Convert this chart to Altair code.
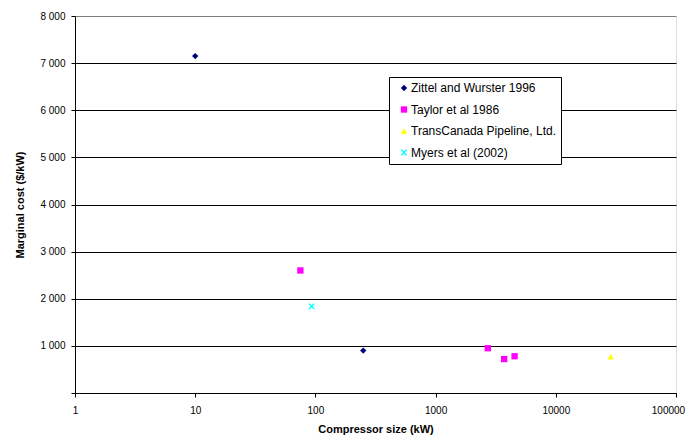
import altair as alt
import pandas as pd

series_names = ["Zittel and Wurster 1996", "Taylor et al 1986",
                "TransCanada Pipeline, Ltd.", "Myers et al (2002)"]

zittel_size = [10, 250]
zittel_cost = [7150, 900]
taylor_size = [75, 2720, 3720, 4540]
taylor_cost = [2600, 950, 720, 780]
transcanada_size = [28600]
transcanada_cost = [770]
myers_size = [93]
myers_cost = [1840]

x_ticks = [1, 10, 100, 1000, 10000, 100000]
y_ticks = [0, 1000, 2000, 3000, 4000, 5000, 6000, 7000, 8000]

colors = ["#000080", "#FF00FF", "#FFFF00", "#00FFFF"]
x_path = ("M-1,-0.7L-0.7,-1L0,-0.3L0.7,-1L1,-0.7L0.3,0L1,0.7L0.7,1"
          "L0,0.3L-0.7,1L-1,0.7L-0.3,0Z")
shapes = ["diamond", "square", "triangle-up", x_path]

rows = []
for name, xs, ys in zip(series_names,
                        [zittel_size, taylor_size, transcanada_size, myers_size],
                        [zittel_cost, taylor_cost, transcanada_cost, myers_cost]):
    for xv, yv in zip(xs, ys):
        rows.append({"series": name, "size": xv, "cost": yv})
df = pd.DataFrame(rows)

font = "Liberation Sans"

chart = alt.Chart(df).mark_point(filled=True, size=40, opacity=1).encode(
    x=alt.X("size:Q",
            scale=alt.Scale(type="log", domain=[1, 100000], nice=False),
            axis=alt.Axis(title="Compressor size (kW)", values=x_ticks,
                          format="d", grid=False, tickSize=4,
                          labelFlush=False, labelOverlap=False,
                          labelOffset={"condition": {"test": "datum.value >= 100000", "value": -8}, "value": 0},
                          labelPadding=8, titlePadding=8,
                          domainColor="black", tickColor="black")),
    y=alt.Y("cost:Q",
            scale=alt.Scale(domain=[0, 8000], nice=False),
            axis=alt.Axis(title="Marginal cost ($/kW)", values=y_ticks,
                          labelExpr="datum.value == 0 ? '' : replace(format(datum.value, ','), ',', ' ')",
                          labelFlush=False, labelOverlap=False,
                          grid=True,
                          gridColor={"condition": {"test": "datum.value === 8000", "value": "#808080"}, "value": "black"},
                          tickSize=4, labelPadding=6, titlePadding=14,
                          domainColor="black", tickColor="black")),
    color=alt.Color("series:N",
                    scale=alt.Scale(domain=series_names, range=colors),
                    legend=alt.Legend(title=None, orient="none",
                                      legendX=314, legendY=61,
                                      fillColor="white", strokeColor="black",
                                      padding=5, symbolSize=40,
                                      symbolOffset=4,
                                      labelFontSize=12, labelFont=font,
                                      labelColor="black",
                                      rowPadding=9.5, labelOffset=1,
                                      labelLimit=300)),
    shape=alt.Shape("series:N",
                    scale=alt.Scale(domain=series_names, range=shapes),
                    legend=alt.Legend(title=None, orient="none",
                                      legendX=314, legendY=61)),
).properties(
    width=601, height=377,
    autosize=alt.AutoSizeParams(type="none"),
    padding={"left": 67, "top": 8, "right": 12, "bottom": 44},
).configure_view(
    stroke="#808080", strokeWidth=1
).configure_axis(
    labelFont=font, titleFont=font, labelFontSize=12, titleFontSize=11.5,
    labelColor="black", titleColor="black", titleFontWeight="bold",
    gridWidth=1, domainWidth=1, tickWidth=1
).configure(background="white")

chart.save("out.html", embed_options={"renderer": "svg", "actions": False})
